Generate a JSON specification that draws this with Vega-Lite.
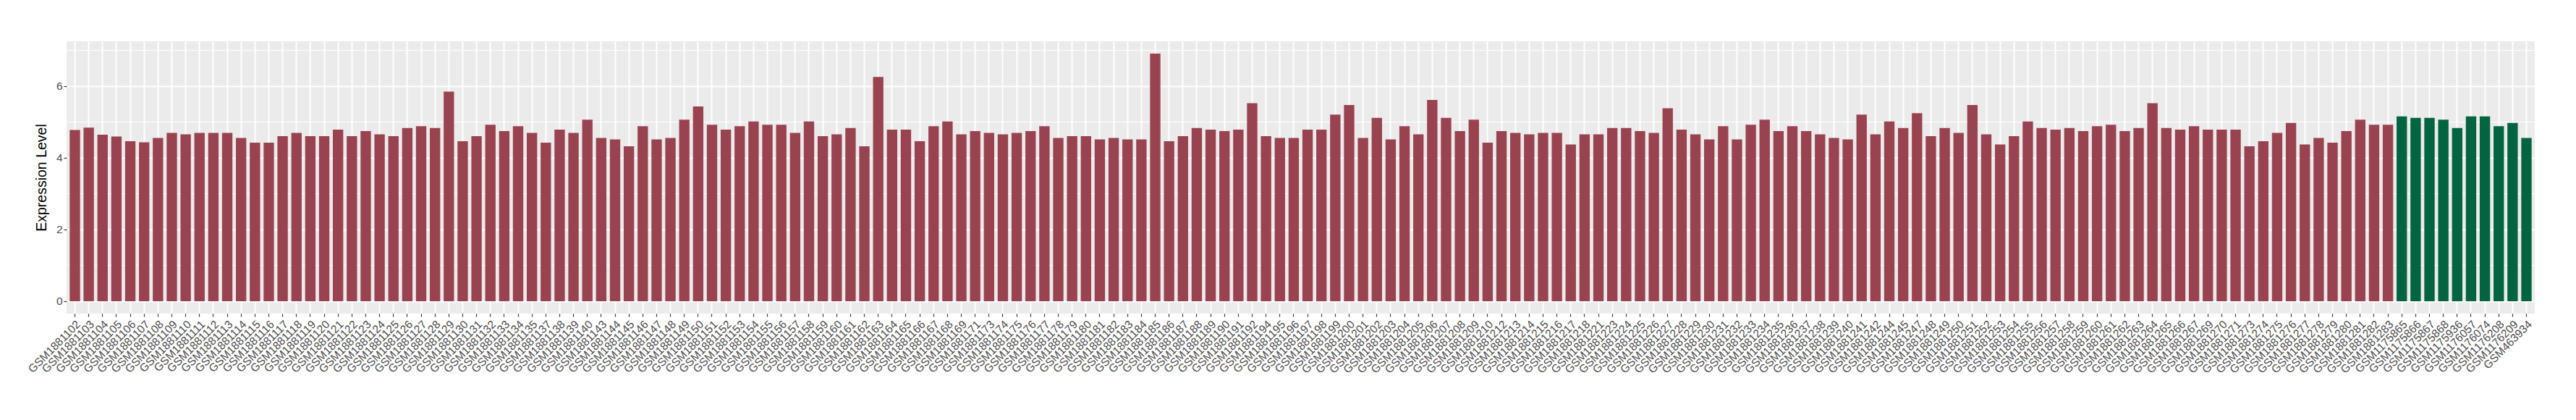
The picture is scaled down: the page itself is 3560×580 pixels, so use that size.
{
  "$schema": "https://vega.github.io/schema/vega-lite/v6.json",
  "width": 3411,
  "height": 376,
  "autosize": {"type": "none"},
  "padding": {"left": 92, "top": 57, "right": 57, "bottom": 147},
  "background": "white",
  "view": {"fill": "#EBEBEB", "stroke": null},
  "data": {"values": [
    {"s":"GSM1881102","v":4.77,"g":"a"},{"s":"GSM1881103","v":4.84,"g":"a"},{"s":"GSM1881104","v":4.64,"g":"a"},{"s":"GSM1881105","v":4.59,"g":"a"},{"s":"GSM1881106","v":4.46,"g":"a"},{"s":"GSM1881107","v":4.43,"g":"a"},{"s":"GSM1881108","v":4.55,"g":"a"},{"s":"GSM1881109","v":4.69,"g":"a"},{"s":"GSM1881110","v":4.65,"g":"a"},{"s":"GSM1881111","v":4.69,"g":"a"},
    {"s":"GSM1881112","v":4.69,"g":"a"},{"s":"GSM1881113","v":4.69,"g":"a"},{"s":"GSM1881114","v":4.55,"g":"a"},{"s":"GSM1881115","v":4.42,"g":"a"},{"s":"GSM1881116","v":4.42,"g":"a"},{"s":"GSM1881117","v":4.60,"g":"a"},{"s":"GSM1881118","v":4.69,"g":"a"},{"s":"GSM1881119","v":4.60,"g":"a"},{"s":"GSM1881120","v":4.60,"g":"a"},{"s":"GSM1881121","v":4.78,"g":"a"},
    {"s":"GSM1881122","v":4.60,"g":"a"},{"s":"GSM1881123","v":4.74,"g":"a"},{"s":"GSM1881124","v":4.65,"g":"a"},{"s":"GSM1881125","v":4.60,"g":"a"},{"s":"GSM1881126","v":4.83,"g":"a"},{"s":"GSM1881127","v":4.88,"g":"a"},{"s":"GSM1881128","v":4.83,"g":"a"},{"s":"GSM1881129","v":5.84,"g":"a"},{"s":"GSM1881130","v":4.46,"g":"a"},{"s":"GSM1881131","v":4.60,"g":"a"},
    {"s":"GSM1881132","v":4.92,"g":"a"},{"s":"GSM1881133","v":4.74,"g":"a"},{"s":"GSM1881134","v":4.88,"g":"a"},{"s":"GSM1881135","v":4.69,"g":"a"},{"s":"GSM1881137","v":4.42,"g":"a"},{"s":"GSM1881138","v":4.78,"g":"a"},{"s":"GSM1881139","v":4.69,"g":"a"},{"s":"GSM1881140","v":5.06,"g":"a"},{"s":"GSM1881143","v":4.55,"g":"a"},{"s":"GSM1881144","v":4.51,"g":"a"},
    {"s":"GSM1881145","v":4.32,"g":"a"},{"s":"GSM1881146","v":4.88,"g":"a"},{"s":"GSM1881147","v":4.51,"g":"a"},{"s":"GSM1881148","v":4.55,"g":"a"},{"s":"GSM1881149","v":5.06,"g":"a"},{"s":"GSM1881150","v":5.43,"g":"a"},{"s":"GSM1881151","v":4.92,"g":"a"},{"s":"GSM1881152","v":4.78,"g":"a"},{"s":"GSM1881153","v":4.88,"g":"a"},{"s":"GSM1881154","v":5.01,"g":"a"},
    {"s":"GSM1881155","v":4.92,"g":"a"},{"s":"GSM1881156","v":4.92,"g":"a"},{"s":"GSM1881157","v":4.69,"g":"a"},{"s":"GSM1881158","v":5.01,"g":"a"},{"s":"GSM1881159","v":4.60,"g":"a"},{"s":"GSM1881160","v":4.65,"g":"a"},{"s":"GSM1881161","v":4.83,"g":"a"},{"s":"GSM1881162","v":4.32,"g":"a"},{"s":"GSM1881163","v":6.25,"g":"a"},{"s":"GSM1881164","v":4.78,"g":"a"},
    {"s":"GSM1881165","v":4.78,"g":"a"},{"s":"GSM1881166","v":4.46,"g":"a"},{"s":"GSM1881167","v":4.88,"g":"a"},{"s":"GSM1881168","v":5.01,"g":"a"},{"s":"GSM1881169","v":4.65,"g":"a"},{"s":"GSM1881171","v":4.74,"g":"a"},{"s":"GSM1881173","v":4.69,"g":"a"},{"s":"GSM1881174","v":4.65,"g":"a"},{"s":"GSM1881175","v":4.69,"g":"a"},{"s":"GSM1881176","v":4.74,"g":"a"},
    {"s":"GSM1881177","v":4.88,"g":"a"},{"s":"GSM1881178","v":4.55,"g":"a"},{"s":"GSM1881179","v":4.60,"g":"a"},{"s":"GSM1881180","v":4.60,"g":"a"},{"s":"GSM1881181","v":4.51,"g":"a"},{"s":"GSM1881182","v":4.55,"g":"a"},{"s":"GSM1881183","v":4.51,"g":"a"},{"s":"GSM1881184","v":4.51,"g":"a"},{"s":"GSM1881185","v":6.90,"g":"a"},{"s":"GSM1881186","v":4.46,"g":"a"},
    {"s":"GSM1881187","v":4.60,"g":"a"},{"s":"GSM1881188","v":4.83,"g":"a"},{"s":"GSM1881189","v":4.78,"g":"a"},{"s":"GSM1881190","v":4.74,"g":"a"},{"s":"GSM1881191","v":4.78,"g":"a"},{"s":"GSM1881192","v":5.52,"g":"a"},{"s":"GSM1881194","v":4.60,"g":"a"},{"s":"GSM1881195","v":4.55,"g":"a"},{"s":"GSM1881196","v":4.55,"g":"a"},{"s":"GSM1881197","v":4.78,"g":"a"},
    {"s":"GSM1881198","v":4.78,"g":"a"},{"s":"GSM1881199","v":5.20,"g":"a"},{"s":"GSM1881200","v":5.47,"g":"a"},{"s":"GSM1881201","v":4.55,"g":"a"},{"s":"GSM1881202","v":5.11,"g":"a"},{"s":"GSM1881203","v":4.51,"g":"a"},{"s":"GSM1881204","v":4.88,"g":"a"},{"s":"GSM1881205","v":4.65,"g":"a"},{"s":"GSM1881206","v":5.61,"g":"a"},{"s":"GSM1881207","v":5.11,"g":"a"},
    {"s":"GSM1881208","v":4.74,"g":"a"},{"s":"GSM1881209","v":5.06,"g":"a"},{"s":"GSM1881210","v":4.42,"g":"a"},{"s":"GSM1881212","v":4.74,"g":"a"},{"s":"GSM1881213","v":4.69,"g":"a"},{"s":"GSM1881214","v":4.65,"g":"a"},{"s":"GSM1881215","v":4.69,"g":"a"},{"s":"GSM1881216","v":4.69,"g":"a"},{"s":"GSM1881217","v":4.37,"g":"a"},{"s":"GSM1881218","v":4.65,"g":"a"},
    {"s":"GSM1881221","v":4.65,"g":"a"},{"s":"GSM1881223","v":4.83,"g":"a"},{"s":"GSM1881224","v":4.83,"g":"a"},{"s":"GSM1881225","v":4.74,"g":"a"},{"s":"GSM1881226","v":4.69,"g":"a"},{"s":"GSM1881227","v":5.38,"g":"a"},{"s":"GSM1881228","v":4.78,"g":"a"},{"s":"GSM1881229","v":4.65,"g":"a"},{"s":"GSM1881230","v":4.51,"g":"a"},{"s":"GSM1881231","v":4.88,"g":"a"},
    {"s":"GSM1881232","v":4.51,"g":"a"},{"s":"GSM1881233","v":4.92,"g":"a"},{"s":"GSM1881234","v":5.06,"g":"a"},{"s":"GSM1881235","v":4.74,"g":"a"},{"s":"GSM1881236","v":4.88,"g":"a"},{"s":"GSM1881237","v":4.74,"g":"a"},{"s":"GSM1881238","v":4.65,"g":"a"},{"s":"GSM1881239","v":4.55,"g":"a"},{"s":"GSM1881240","v":4.51,"g":"a"},{"s":"GSM1881241","v":5.20,"g":"a"},
    {"s":"GSM1881242","v":4.65,"g":"a"},{"s":"GSM1881244","v":5.01,"g":"a"},{"s":"GSM1881245","v":4.83,"g":"a"},{"s":"GSM1881247","v":5.24,"g":"a"},{"s":"GSM1881248","v":4.60,"g":"a"},{"s":"GSM1881249","v":4.83,"g":"a"},{"s":"GSM1881250","v":4.69,"g":"a"},{"s":"GSM1881251","v":5.47,"g":"a"},{"s":"GSM1881252","v":4.65,"g":"a"},{"s":"GSM1881253","v":4.37,"g":"a"},
    {"s":"GSM1881254","v":4.60,"g":"a"},{"s":"GSM1881255","v":5.01,"g":"a"},{"s":"GSM1881256","v":4.83,"g":"a"},{"s":"GSM1881257","v":4.78,"g":"a"},{"s":"GSM1881258","v":4.83,"g":"a"},{"s":"GSM1881259","v":4.74,"g":"a"},{"s":"GSM1881260","v":4.88,"g":"a"},{"s":"GSM1881261","v":4.92,"g":"a"},{"s":"GSM1881262","v":4.74,"g":"a"},{"s":"GSM1881263","v":4.83,"g":"a"},
    {"s":"GSM1881264","v":5.52,"g":"a"},{"s":"GSM1881265","v":4.83,"g":"a"},{"s":"GSM1881266","v":4.78,"g":"a"},{"s":"GSM1881267","v":4.88,"g":"a"},{"s":"GSM1881269","v":4.78,"g":"a"},{"s":"GSM1881270","v":4.78,"g":"a"},{"s":"GSM1881271","v":4.78,"g":"a"},{"s":"GSM1881273","v":4.32,"g":"a"},{"s":"GSM1881274","v":4.46,"g":"a"},{"s":"GSM1881275","v":4.69,"g":"a"},
    {"s":"GSM1881276","v":4.97,"g":"a"},{"s":"GSM1881277","v":4.37,"g":"a"},{"s":"GSM1881278","v":4.55,"g":"a"},{"s":"GSM1881279","v":4.42,"g":"a"},{"s":"GSM1881280","v":4.74,"g":"a"},{"s":"GSM1881281","v":5.06,"g":"a"},{"s":"GSM1881282","v":4.92,"g":"a"},{"s":"GSM1881283","v":4.92,"g":"a"},
    {"s":"GSM1175865","v":5.15,"g":"b"},{"s":"GSM1175866","v":5.11,"g":"b"},{"s":"GSM1175867","v":5.11,"g":"b"},{"s":"GSM1175868","v":5.06,"g":"b"},{"s":"GSM1175936","v":4.83,"g":"b"},{"s":"GSM1176057","v":5.15,"g":"b"},{"s":"GSM1176074","v":5.15,"g":"b"},{"s":"GSM1176208","v":4.88,"g":"b"},{"s":"GSM1176209","v":4.97,"g":"b"},{"s":"GSM463934","v":4.55,"g":"b"}
  ]},
  "mark": {"type": "bar"},
  "encoding": {
    "x": {
      "field": "s", "type": "nominal", "sort": null,
      "scale": {"paddingInner": 0.25, "paddingOuter": 0.225},
      "axis": {
        "title": null, "labelAngle": -45, "labelAlign": "right", "labelBaseline": "top",
        "labelFont": "Liberation Sans", "labelFontSize": 15.5, "labelColor": "#4D4D4D",
        "labelPadding": 3, "labelOverlap": false, "labelBound": false,
        "tickColor": "#333333", "tickSize": 4, "tickWidth": 1.2,
        "domain": false, "grid": true, "gridColor": "white", "gridWidth": 2,
        "zindex": 0
      }
    },
    "y": {
      "field": "v", "type": "quantitative",
      "scale": {"domain": [-0.345, 7.245], "nice": false, "zero": false},
      "axis": {
        "title": "Expression Level", "titleFont": "Liberation Sans", "titleFontSize": 19.5, "titleFontWeight": "normal", "titleColor": "black", "titlePadding": 10,
        "values": [0, 1, 2, 3, 4, 5, 6, 7],
        "labelExpr": "datum.value % 2 === 0 ? datum.label : ''",
        "labelFont": "Liberation Sans", "labelFontSize": 15.5, "labelColor": "#4D4D4D", "labelPadding": 2,
        "tickColor": "#333333", "tickSize": 4, "tickWidth": 1.2,
        "tickOpacity": {"condition": {"test": "datum.value % 2 === 1", "value": 0}, "value": 1},
        "domain": false, "grid": true, "gridColor": "white",
        "gridWidth": {"condition": {"test": "datum.value % 2 === 1", "value": 1}, "value": 2},
        "zindex": 0
      }
    },
    "color": {
      "field": "g", "type": "nominal",
      "scale": {"domain": ["a", "b"], "range": ["#9A4350", "#036441"]},
      "legend": null
    }
  }
}
